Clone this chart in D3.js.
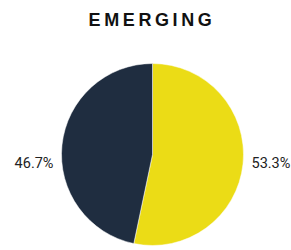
<!DOCTYPE html>
<html>
<head>
<meta charset="utf-8">
<script src="https://cdn.jsdelivr.net/npm/d3@7"></script>
<style>
  html, body { margin: 0; padding: 0; background: #fff; }
</style>
</head>
<body>
<svg width="291" height="250"></svg>
<script>
const title = "EMERGING";
const categories = ["Yes", "No"];
const values = [53.3, 46.7];
const colors = ["#ebdc16", "#1f2d40"];

const svg = d3.select("svg");
const cx = 152.5, cy = 154.5, radius = 91;

svg.append("text")
    .attr("x", 152)
    .attr("y", 26)
    .attr("text-anchor", "middle")
    .style("font-family", "Liberation Sans, Arial, sans-serif")
    .style("font-weight", "bold")
    .style("font-size", "18px")
    .style("letter-spacing", "3.6px")
    .style("fill", "#111")
    .text(title);

const pie = d3.pie().sort(null).value(d => d);
const arc = d3.arc().innerRadius(0).outerRadius(radius);

const g = svg.append("g").attr("transform", `translate(${cx},${cy})`);

const arcs = pie(values);

g.selectAll("path")
    .data(arcs)
    .enter()
    .append("path")
    .attr("d", arc)
    .style("fill", (d, i) => colors[i])
    .style("stroke", "#fff")
    .style("stroke-width", 0.5);

// labels sit just outside the pie, to the side of each slice
g.selectAll(".label")
    .data(arcs)
    .enter()
    .append("text")
    .attr("class", "label")
    .attr("x", d => {
        const mid = (d.startAngle + d.endAngle) / 2;
        return Math.sin(mid) > 0 ? radius + 8 : -radius - 8;
    })
    .attr("y", 13.5)
    .attr("text-anchor", d => Math.sin((d.startAngle + d.endAngle) / 2) > 0 ? "start" : "end")
    .style("font-family", "Roboto, Arial, sans-serif")
    .style("font-size", "14.5px")
    .style("fill", "#222")
    .text(d => d.data.toFixed(1) + "%");
</script>
</body>
</html>
